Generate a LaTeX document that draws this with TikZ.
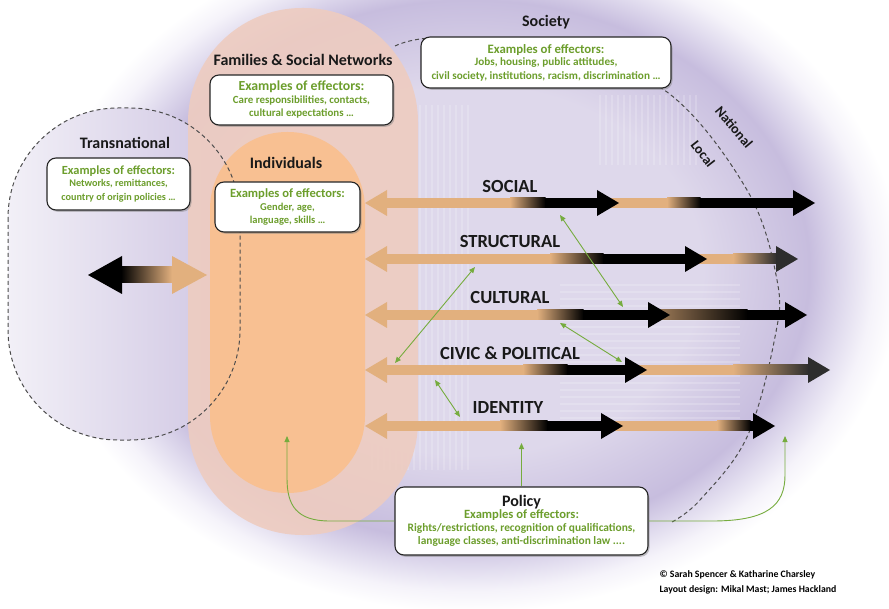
\documentclass[tikz,border=0pt]{standalone}
\usepackage{fontspec}
\setmainfont{Carlito}
\usetikzlibrary{arrows.meta,shadows}
\definecolor{tanc}{RGB}{226,176,126}
\definecolor{effgreen}{RGB}{108,158,44}
\definecolor{arrgreen}{RGB}{118,172,62}
\definecolor{lavA}{RGB}{222,216,235}
\definecolor{lavB}{RGB}{199,189,222}
\definecolor{lavC}{RGB}{226,221,239}
\definecolor{lavD}{RGB}{245,243,250}
\definecolor{wht}{RGB}{255,255,255}
\definecolor{transL}{RGB}{242,240,247}
\definecolor{transR}{RGB}{206,196,226}
\definecolor{peachL}{RGB}{238,204,192}
\definecolor{peachD}{RGB}{248,192,146}
\definecolor{darkend}{RGB}{45,45,45}
\pgfdeclareradialshading{bgshade}{\pgfpoint{0bp}{0bp}}{rgb(0bp)=(0.871,0.847,0.922); rgb(8.75bp)=(0.871,0.847,0.922); rgb(12.8bp)=(0.780,0.741,0.871); rgb(14.2bp)=(0.886,0.867,0.937); rgb(15.2bp)=(0.961,0.953,0.980); rgb(16.2bp)=(1,1,1); rgb(50bp)=(1,1,1)}
\newcommand\arrShaft[4]{\fill[#4] (#2,#1-5) rectangle (#3,#1+5);}
\newcommand\arrGrad[5]{\shade[left color=#4,right color=#5] (#2,#1-5) rectangle (#3,#1+5);}
\newcommand\arrHeadR[3]{\fill[#3] (#2,#1) -- (#2-22,#1-13) -- (#2-22,#1+13) -- cycle;}
\newcommand\arrHeadL[3]{\fill[#3] (#2,#1) -- (#2+22,#1-13) -- (#2+22,#1+13) -- cycle;}
\newcommand\effhd[1]{\fontsize{#1}{16}\selectfont}
\tikzset{
  effbox/.style={draw=black!85, line width=1.1pt, fill=white, rounded corners=9pt,
    drop shadow={opacity=0.45, shadow xshift=1.5pt, shadow yshift=-1.8pt},
    inner sep=0pt, align=center, text=effgreen, font=\bfseries\fontsize{#1}{13.5}\selectfont},
  effbox/.default=10.5,
  title/.style={font=\bfseries\fontsize{16}{18}\selectfont, text=black!90},
  rowlab/.style={font=\bfseries\fontsize{18.5}{20}\selectfont, text=black!90},
  greenarr/.style={draw=arrgreen, line width=0.9pt, {Triangle[length=6pt,width=5pt]}-{Triangle[length=6pt,width=5pt]}},
  greenone/.style={draw=arrgreen, line width=0.9pt, -{Triangle[length=6pt,width=5pt]}},
  boundary/.style={line width=1pt, draw=black!70, dash pattern=on 4pt off 3pt},
  credit/.style={font=\bfseries\fontsize{9.8}{12}\selectfont, anchor=west, text=black},
  sidelab/.style={font=\bfseries\fontsize{14}{16}\selectfont, text=black!90}
}
\begin{document}
\begin{tikzpicture}[x=1pt,y=-1pt]
\useasboundingbox (0,0) rectangle (889,609);
\fill[wht] (0,0) rectangle (889,609);
% background purple (shading ellipse larger than the picture; visible fade inside)
\begin{scope}
\clip (0,0) rectangle (889,609);
\fill[shading=bgshade] (470,270) ellipse [x radius=664, y radius=528];
\end{scope}
% texture stripes
\begin{scope}[white, opacity=0.18, line width=1.3pt]
\foreach \x in {372,378,...,468} \draw (\x,105) -- (\x,470);
\foreach \y in {285,292,...,420} \draw (560,\y) -- (740,\y);
\foreach \x in {600,606,...,700} \draw (\x,95) -- (\x,165);
\end{scope}
% transnational region fill
\shade[left color=transL, right color=transR, rounded corners=110pt] (8,108) rectangle (240,440);
% families and individuals
\fill[peachL, opacity=0.9, rounded corners=114pt] (188,8) rectangle (418,535);
\fill[peachD, rounded corners=77pt] (210,132) rectangle (365,493);
% transnational dashed boundary
\draw[boundary, rounded corners=110pt] (8,108) rectangle (240,440);
% national / local boundary
\draw[boundary] plot[smooth, tension=0.6] coordinates {(395,46) (440,38) (560,52) (667,92) (747,190) (777,280) (775,337) (747,437) (700,500) (672,522)};
\node[sidelab, rotate=-50] (natl) at (734,127) {National};
\node[sidelab, rotate=-52] (locl) at (703,154) {Local};
% transnational double arrow
\fill[black] (88,275) -- (122,256) -- (122,294) -- cycle;
\shade[left color=black, right color=tanc] (121,267) rectangle (172,283);
\fill[tanc] (207,275) -- (172,256) -- (172,294) -- cycle;
% rows
% SOCIAL
\arrShaft{203}{600}{667.5}{tanc}\arrGrad{203}{667}{700.5}{tanc}{black}\arrShaft{203}{700}{794}{black}\arrHeadR{203}{815}{black}
\arrHeadL{203}{365}{tanc}\arrShaft{203}{386}{510.5}{tanc}\arrGrad{203}{510}{545.5}{tanc}{black}\arrShaft{203}{545}{598}{black}\arrHeadR{203}{619}{black}
% STRUCTURAL
\arrShaft{259}{690}{733.5}{tanc}\arrGrad{259}{733}{777}{tanc}{darkend}\arrHeadR{259}{798}{darkend}
\arrHeadL{259}{365}{tanc}\arrShaft{259}{386}{550.5}{tanc}\arrGrad{259}{550}{603.5}{tanc}{black}\arrShaft{259}{603}{686}{black}\arrHeadR{259}{707}{black}
% CULTURAL
\arrGrad{315}{650}{747.5}{tanc!75!black}{black}\arrShaft{315}{747}{786}{black}\arrHeadR{315}{807}{black}
\arrHeadL{315}{365}{tanc}\arrShaft{315}{386}{537.5}{tanc}\arrGrad{315}{537}{583.5}{tanc}{black}\arrShaft{315}{583}{649}{black}\arrHeadR{315}{670}{black}
% CIVIC
\arrShaft{370}{630}{733.5}{tanc}\arrGrad{370}{733}{809}{tanc}{darkend}\arrHeadR{370}{830}{darkend}
\arrHeadL{370}{365}{tanc}\arrShaft{370}{386}{523.5}{tanc}\arrGrad{370}{523}{567.5}{tanc}{black}\arrShaft{370}{567}{626}{black}\arrHeadR{370}{647}{black}
% IDENTITY
\arrShaft{426}{605}{717.5}{tanc}\arrGrad{426}{717}{750.5}{tanc}{black}\arrShaft{426}{750}{754}{black}\arrHeadR{426}{775}{black}
\arrHeadL{426}{365}{tanc}\arrShaft{426}{386}{500.5}{tanc}\arrGrad{426}{500}{547.5}{tanc}{black}\arrShaft{426}{547}{602}{black}\arrHeadR{426}{623}{black}
% row labels
\node[rowlab] (lsoc) at (510,187) {SOCIAL};
\node[rowlab] (lstr) at (510,242) {STRUCTURAL};
\node[rowlab] (lcul) at (510,298) {CULTURAL};
\node[rowlab] (lciv) at (510,353) {CIVIC \& POLITICAL};
\node[rowlab] (lide) at (508,408) {IDENTITY};
% green interaction arrows
\coordinate (g1a) at (560,215); \coordinate (g1b) at (623,307);
\coordinate (g2a) at (475,267); \coordinate (g2b) at (395,363);
\coordinate (g3a) at (560,323); \coordinate (g3b) at (622,362);
\coordinate (g4a) at (435,380); \coordinate (g4b) at (460,417);
\draw[greenarr] (g1a) -- (g1b);
\draw[greenarr] (g2a) -- (g2b);
\draw[greenarr] (g3a) -- (g3b);
\draw[greenarr] (g4a) -- (g4b);
% titles
\node[title] (ttrans) at (125,143) {Transnational};
\node[title] (tfam) at (303,60) {Families \& Social Networks};
\node[title] (tind) at (286,163) {Individuals};
\node[title] (tsoc) at (546,22) {Society};
% boxes
\node[effbox=10.2, minimum width=143pt, minimum height=52pt] (btrans) at (118.5,184)
  {{\effhd{12.4}Examples of effectors:}\\[-1pt] Networks, remittances,\\ country of origin policies …};
\node[effbox=10.9, minimum width=183pt, minimum height=50pt] (bfam) at (301.5,100)
  {{\effhd{13.8}Examples of effectors:}\\[-1pt] Care responsibilities, contacts,\\ cultural expectations …};
\node[effbox=10.5, minimum width=145pt, minimum height=50pt] (bind) at (287.5,207)
  {{\effhd{12.6}Examples of effectors:}\\[-1pt] Gender, age,\\ language, skills …};
\node[effbox=11.2, minimum width=250pt, minimum height=51pt] (bsoc) at (546,62.5)
  {{\effhd{12.8}Examples of effectors:}\\[-1pt] Jobs, housing, public attitudes,\\ civil society, institutions, racism, discrimination …};
% policy
\node[effbox=11.4, minimum width=253pt, minimum height=68pt] (policy) at (521.5,521)
  {{\color{black!90}\fontsize{16}{18}\selectfont Policy}\\[-1pt]{\effhd{12.6}Examples of effectors:}\\[-1pt] Rights/restrictions, recognition of qualifications,\\ language classes, anti-discrimination law ....};
\coordinate (pup) at (521.5,443);
\coordinate (pl) at (287,436);
\coordinate (pr) at (785,436);
\draw[greenone] (policy.north) -- (pup);
\draw[greenone] (policy.west) -- (330,521) .. controls (296,521) and (287,505) .. (287,478) -- (pl);
\draw[greenone] (policy.east) -- (712,521) .. controls (768,521) and (785,505) .. (785,475) -- (pr);
% credits
\node[credit] (cr1) at (656,575) {© Sarah Spencer \& Katharine Charsley};
\node[credit] (cr2) at (656,590) {Layout design: Mikal Mast; James Hackland};
\end{tikzpicture}
\end{document}
